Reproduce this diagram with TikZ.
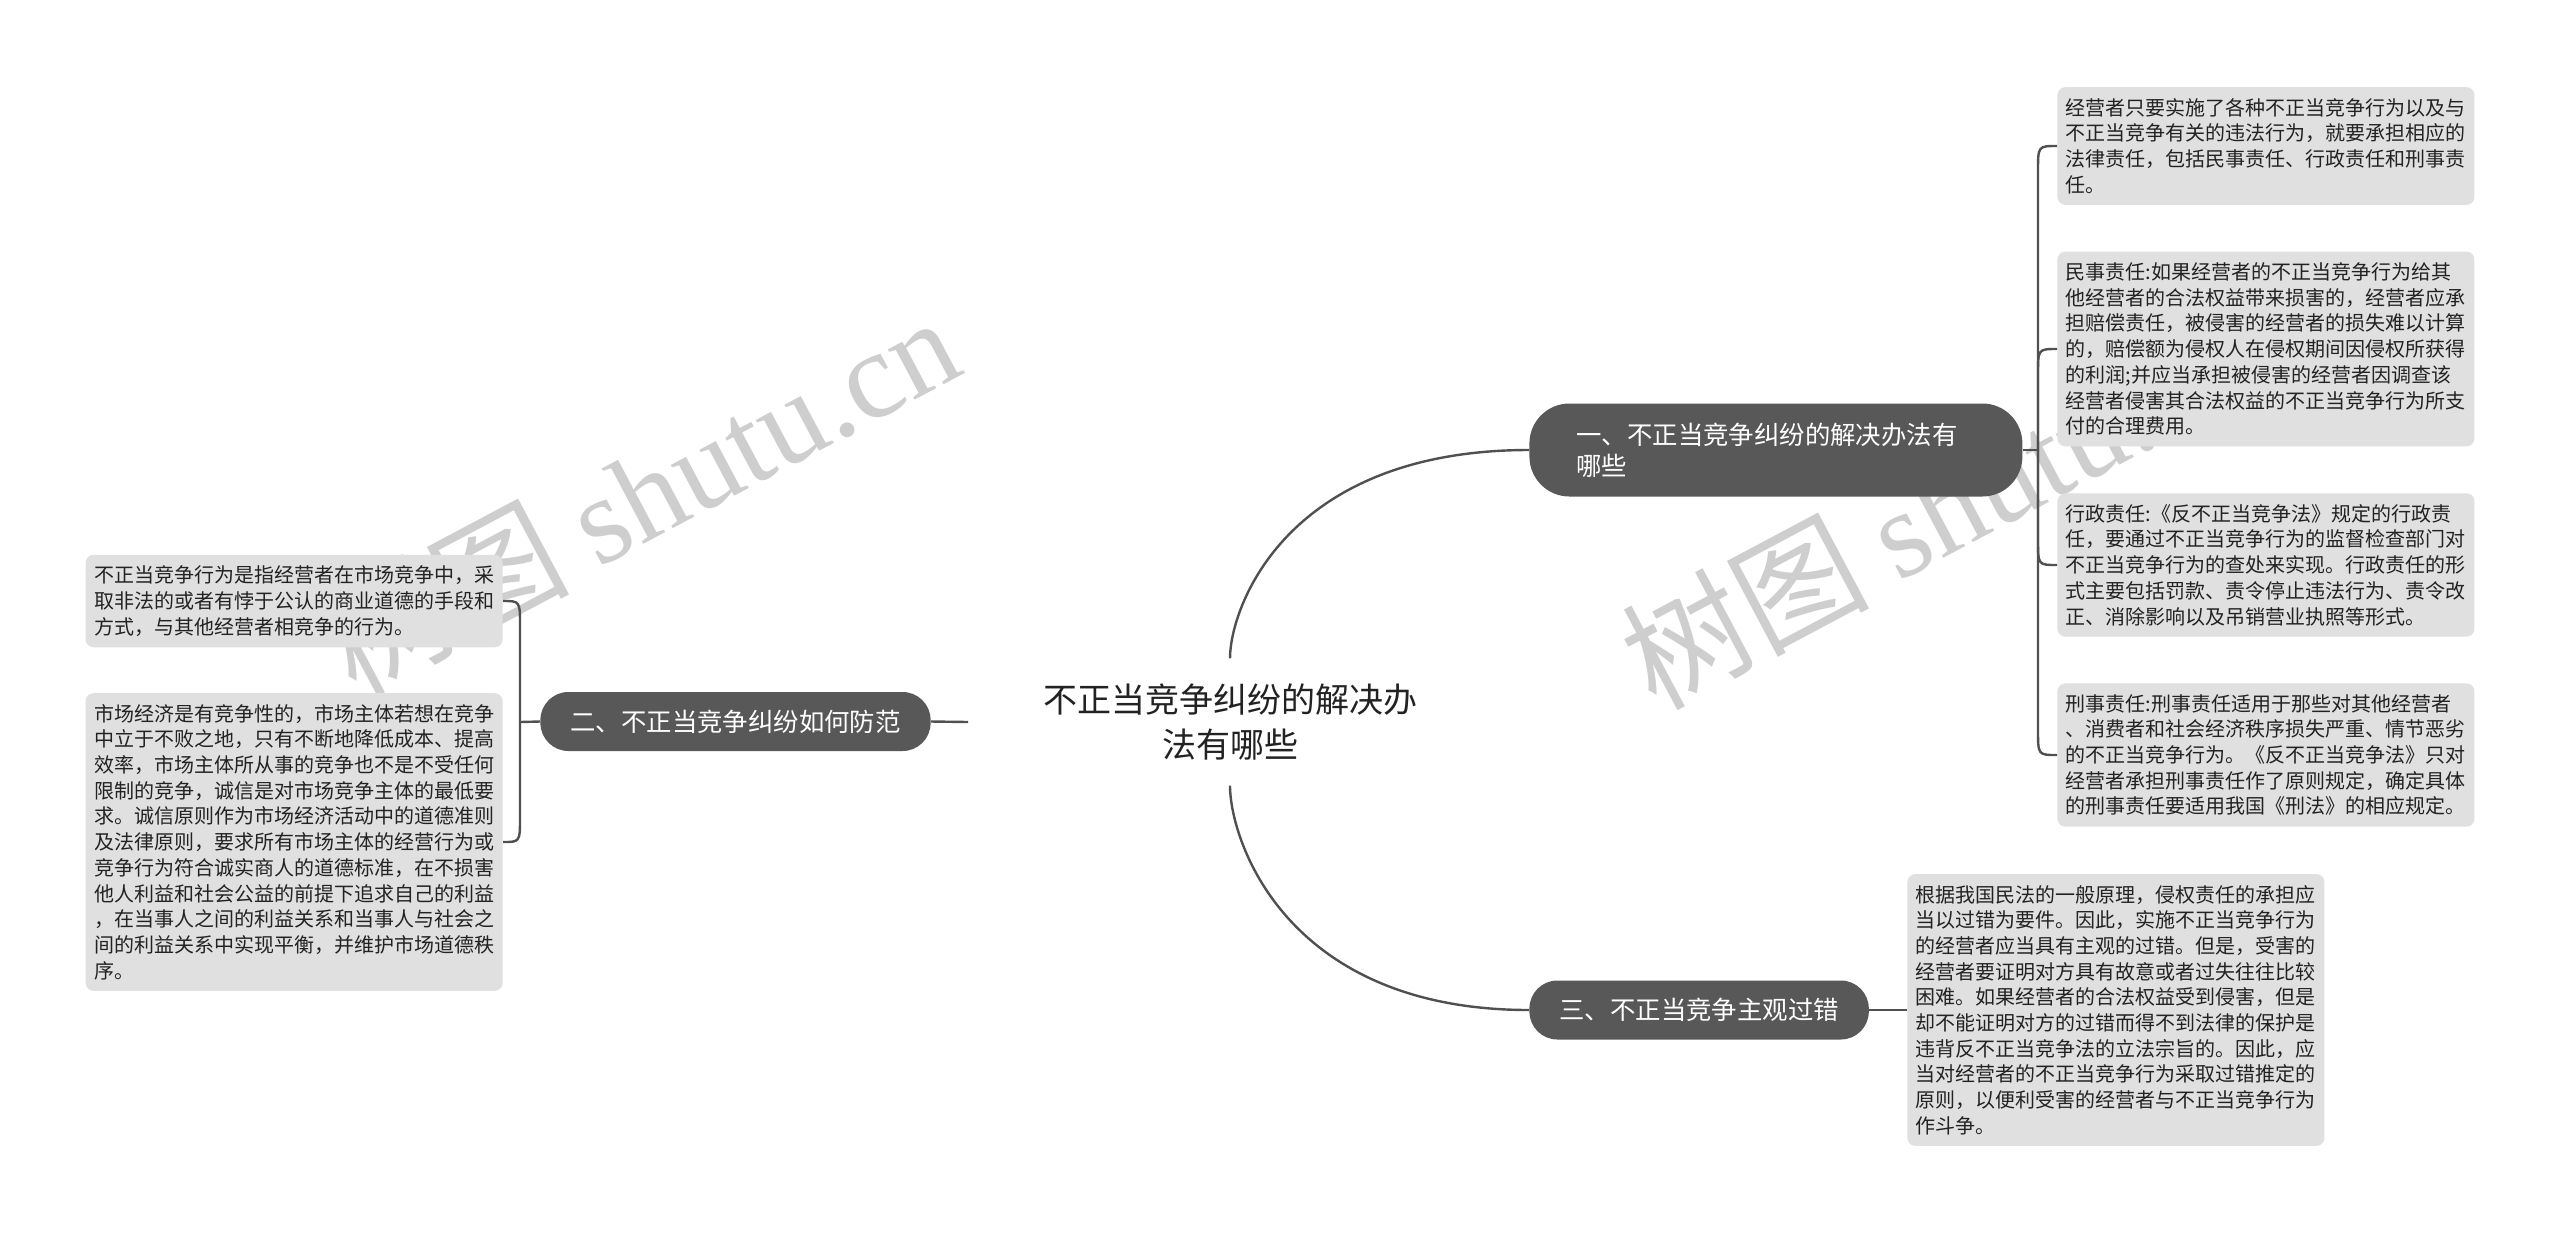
\documentclass[tikz,border=0pt]{standalone}
\usepackage{fontspec}
\setmainfont{Noto Sans CJK SC}
\newfontfamily\wmlatin{Liberation Serif}
\usetikzlibrary{calc}
\definecolor{branchgray}{RGB}{88,88,88}
\definecolor{leafgray}{RGB}{224,224,224}
\definecolor{linkgray}{RGB}{80,80,80}
\definecolor{inkgray}{RGB}{34,34,34}
\definecolor{markgray}{RGB}{206,206,206}

\begin{document}
\begin{tikzpicture}[x=0.5pt, y=-0.5pt,
  root/.style={align=center, text=inkgray, inner xsep=4pt, inner ysep=12.5pt,
    font=\fontsize{17pt}{22.5pt}\selectfont},
  branch/.style={fill=branchgray, text=white, rounded corners=14pt,
    minimum height=29.5pt, inner xsep=15pt, font=\fontsize{12.7pt}{15.5pt}\selectfont},
  leaf/.style={fill=leafgray, text=inkgray, rounded corners=4pt, align=left,
    text width=200pt, inner xsep=4.25pt, inner ysep=5.5pt,
    font=\fontsize{10pt}{12.85pt}\selectfont},
  link/.style={draw=linkgray, line width=1.2pt},
  wmark/.style={text=markgray, rotate=28, anchor=base west, inner sep=0pt,
    font=\fontsize{62pt}{62pt}\selectfont}]
  \path[use as bounding box, fill=white] (0,0) rectangle (2560,1233);

  %% Watermarks
  \node[wmark] (wmL) at (355,698) {树图 {\wmlatin shutu.cn}};
  \node[wmark] (wmR) at (1655,712) {树图 {\wmlatin shutu.cn}};

  %% Root and main branches
  \node[root] (root) at (1230,722) {不正当竞争纠纷的解决办\\法有哪些};
  \node[branch, anchor=west, align=left, text width=199.5pt, minimum width=246.5pt,
    minimum height=46.5pt, inner xsep=23.5pt, rounded corners=20pt] (b1) at (1529,450)
    {一、不正当竞争纠纷的解决办法有\\哪些};
  \node[branch] (b2) at (735.5,721.5) {二、不正当竞争纠纷如何防范};
  \node[branch, anchor=west] (b3) at (1529,1010) {三、不正当竞争主观过错};

  %% Leaves of branch one
  \node[leaf, anchor=west] (r1) at (2057,146) {经营者只要实施了各种不正当竞争行为以及与\\不正当竞争有关的违法行为，就要承担相应的\\法律责任，包括民事责任、行政责任和刑事责\\任。};
  \node[leaf, anchor=west] (r2) at (2057,349) {民事责任:如果经营者的不正当竞争行为给其\\他经营者的合法权益带来损害的，经营者应承\\担赔偿责任，被侵害的经营者的损失难以计算\\的，赔偿额为侵权人在侵权期间因侵权所获得\\的利润;并应当承担被侵害的经营者因调查该\\经营者侵害其合法权益的不正当竞争行为所支\\付的合理费用。};
  \node[leaf, anchor=west] (r3) at (2057,565) {行政责任:《反不正当竞争法》规定的行政责\\任，要通过不正当竞争行为的监督检查部门对\\不正当竞争行为的查处来实现。行政责任的形\\式主要包括罚款、责令停止违法行为、责令改\\正、消除影响以及吊销营业执照等形式。};
  \node[leaf, anchor=west] (r4) at (2057,755) {刑事责任:刑事责任适用于那些对其他经营者\\、消费者和社会经济秩序损失严重、情节恶劣\\的不正当竞争行为。《反不正当竞争法》只对\\经营者承担刑事责任作了原则规定，确定具体\\的刑事责任要适用我国《刑法》的相应规定。};

  %% Leaf of branch three
  \node[leaf, anchor=west] (r5) at (1907,1010) {根据我国民法的一般原理，侵权责任的承担应\\当以过错为要件。因此，实施不正当竞争行为\\的经营者应当具有主观的过错。但是，受害的\\经营者要证明对方具有故意或者过失往往比较\\困难。如果经营者的合法权益受到侵害，但是\\却不能证明对方的过错而得不到法律的保护是\\违背反不正当竞争法的立法宗旨的。因此，应\\当对经营者的不正当竞争行为采取过错推定的\\原则，以便利受害的经营者与不正当竞争行为\\作斗争。};

  %% Leaves of branch two
  \node[leaf, anchor=east] (l1) at (503,601) {不正当竞争行为是指经营者在市场竞争中，采\\取非法的或者有悖于公认的商业道德的手段和\\方式，与其他经营者相竞争的行为。};
  \node[leaf, anchor=east] (l2) at (503,842) {市场经济是有竞争性的，市场主体若想在竞争\\中立于不败之地，只有不断地降低成本、提高\\效率，市场主体所从事的竞争也不是不受任何\\限制的竞争，诚信是对市场竞争主体的最低要\\求。诚信原则作为市场经济活动中的道德准则\\及法律原则，要求所有市场主体的经营行为或\\竞争行为符合诚实商人的道德标准，在不损害\\他人利益和社会公益的前提下追求自己的利益\\，在当事人之间的利益关系和当事人与社会之\\间的利益关系中实现平衡，并维护市场道德秩\\序。};

  %% Connectors
  \coordinate (jr) at (2038,450);
  \coordinate (jl) at (520,722);
  \coordinate (rootL) at (968,722);
  \draw[link] (root.north) .. controls ($(root.north)+(0,-50)$) and ($(b1.west)+(-244,0)$) .. (b1.west);
  \draw[link] (root.south) .. controls ($(root.south)+(0,54)$) and ($(b3.west)+(-244,0)$) .. (b3.west);
  \draw[link] (b2.east) -- (rootL);
  \draw[link] (b3.east) -- (r5.west);

  \draw[link] (b1.east) -- (jr);
  \draw[link] (jr) -- ($(r1.west)+(-19,25)$) .. controls ($(r1.west)+(-19,0)$) .. (r1.west);
  \draw[link] (jr) -- ($(r2.west)+(-19,25)$) .. controls ($(r2.west)+(-19,0)$) .. (r2.west);
  \draw[link] (jr) -- ($(r3.west)+(-19,-25)$) .. controls ($(r3.west)+(-19,0)$) .. (r3.west);
  \draw[link] (jr) -- ($(r4.west)+(-19,-25)$) .. controls ($(r4.west)+(-19,0)$) .. (r4.west);

  \draw[link] (b2.west) -- (jl);
  \draw[link] (jl) -- ($(l1.east)+(17,25)$) .. controls ($(l1.east)+(17,0)$) .. (l1.east);
  \draw[link] (jl) -- ($(l2.east)+(17,-25)$) .. controls ($(l2.east)+(17,0)$) .. (l2.east);
\end{tikzpicture}
\end{document}
